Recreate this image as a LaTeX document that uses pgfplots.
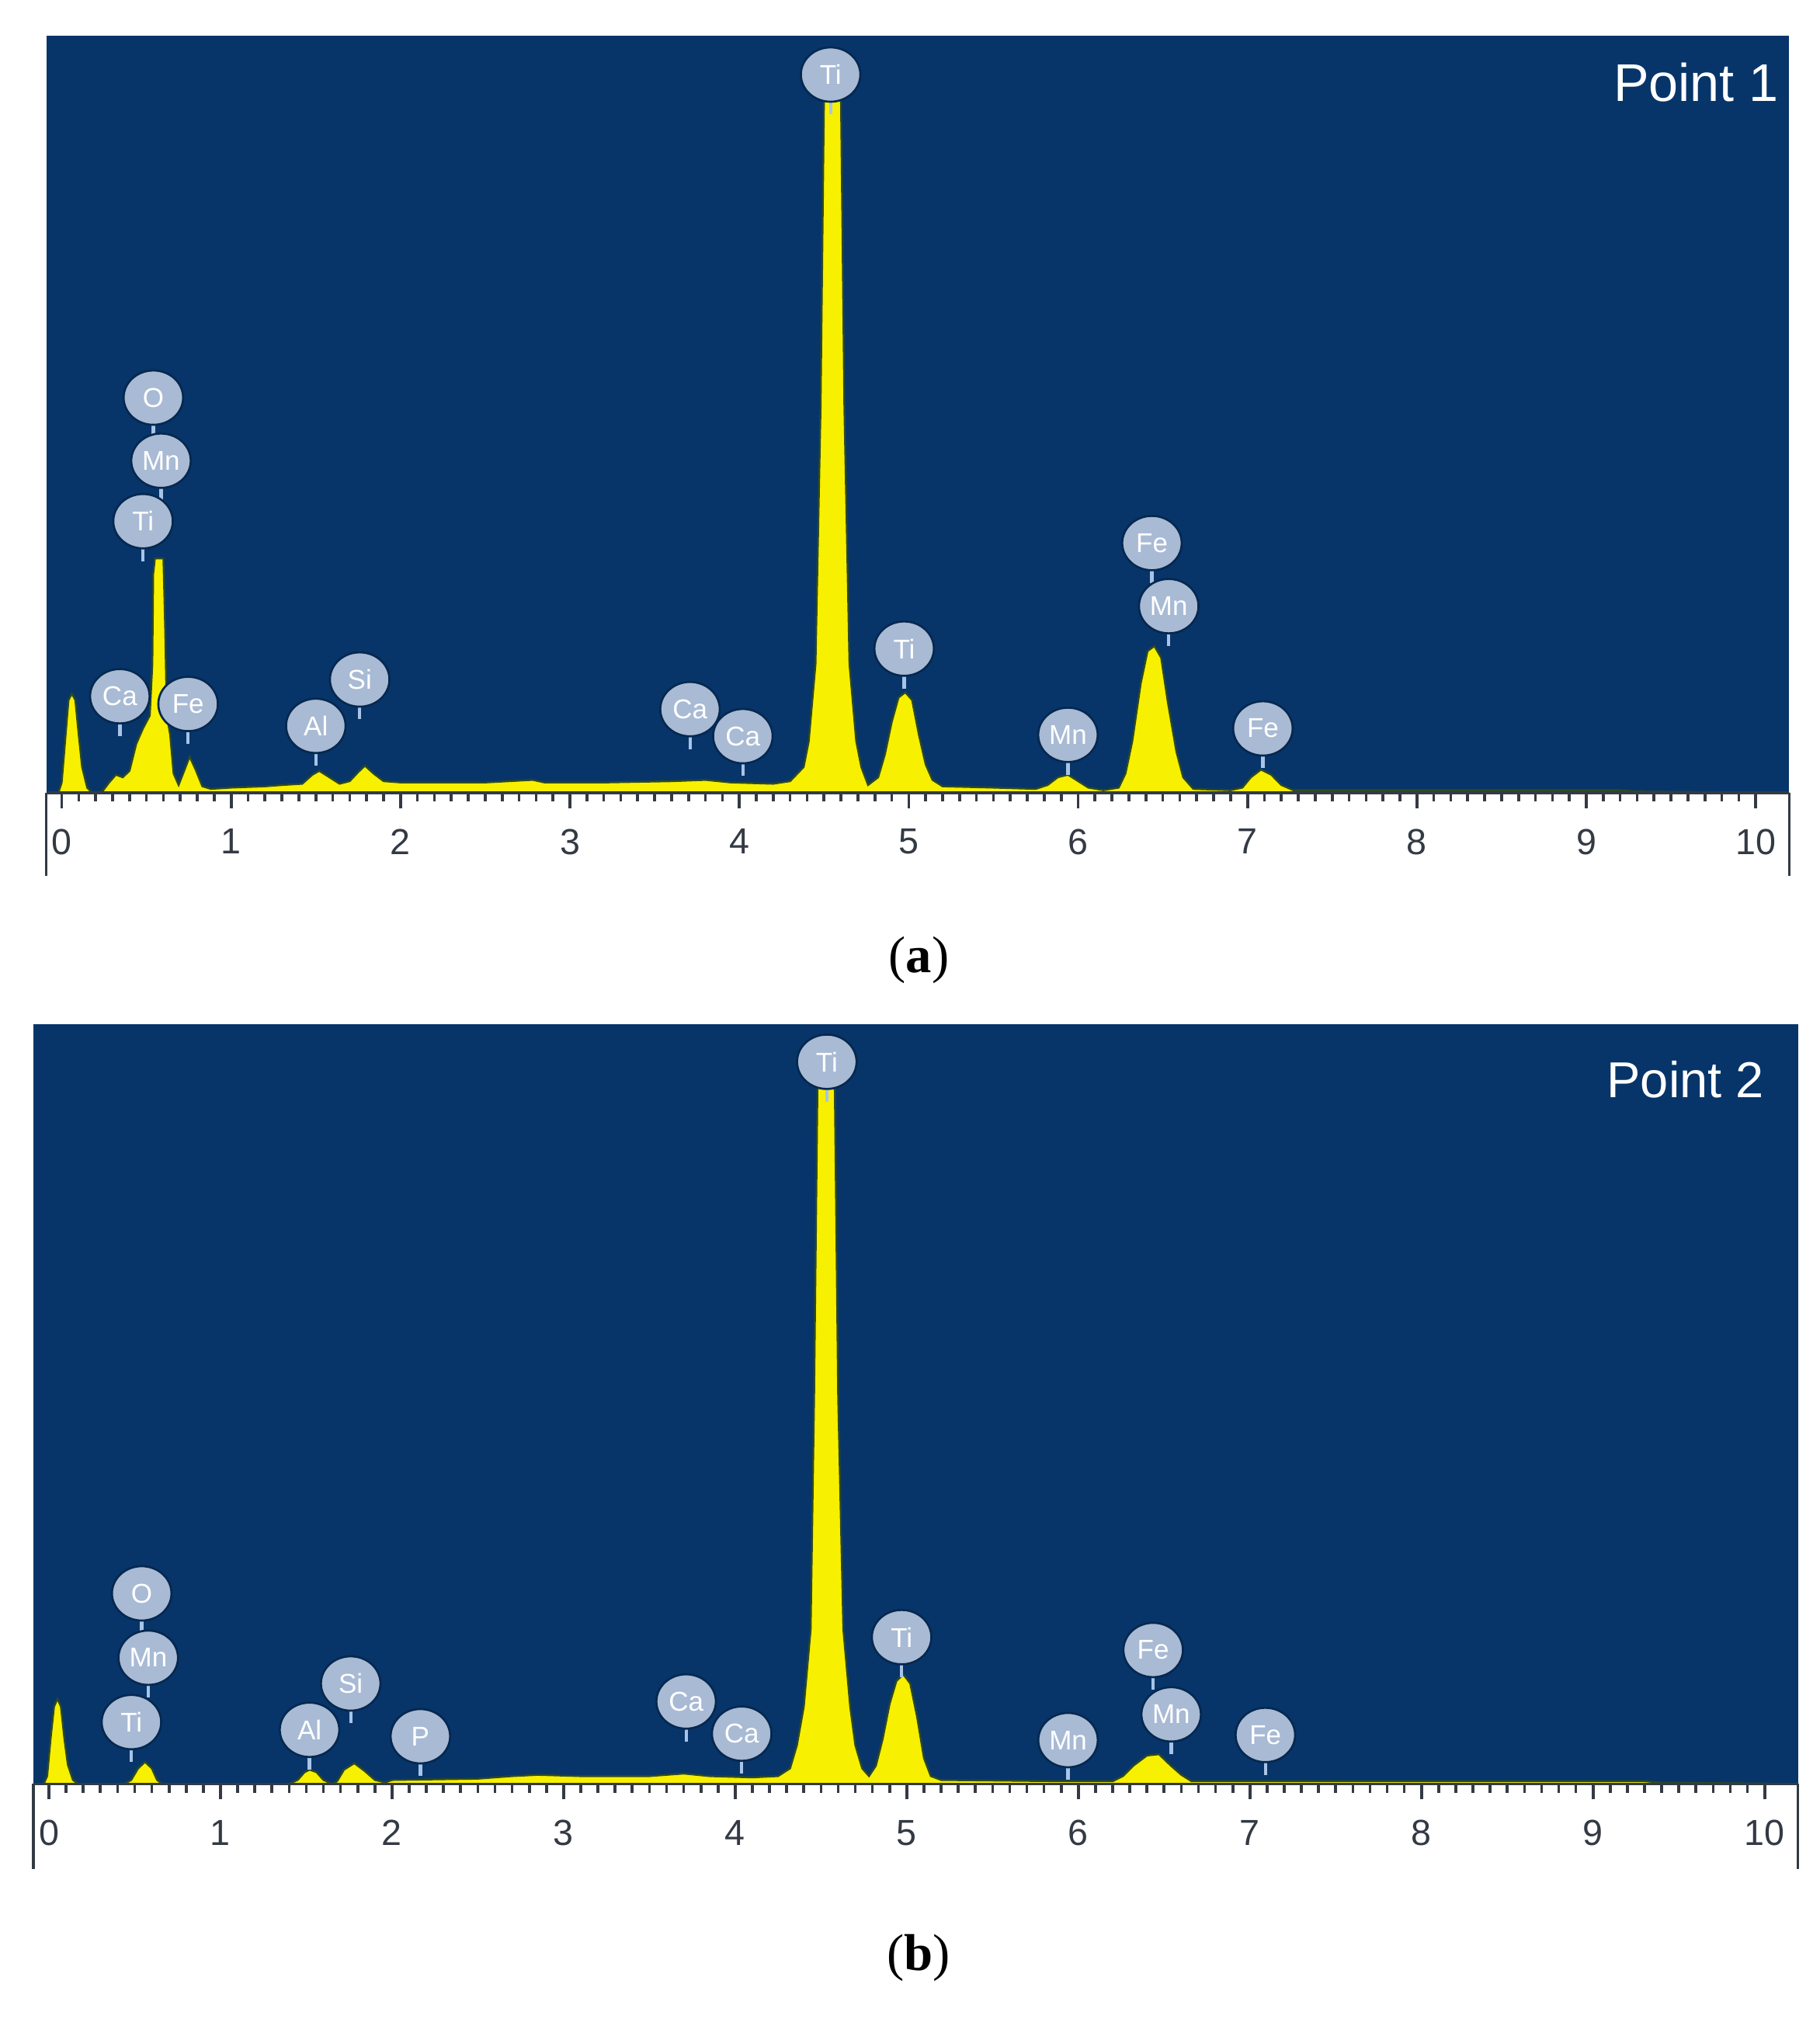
\documentclass[border=0pt]{standalone}
\usepackage{pgfplots}
\pgfplotsset{compat=1.18}
\usepackage{pgfplotstable}
\usepackage{fontspec}
\setmainfont{Liberation Sans}
\newfontfamily\capfont{Liberation Serif}
\usetikzlibrary{shapes.geometric}
\definecolor{bg}{HTML}{07356A}
\definecolor{pk}{HTML}{F7F000}
\definecolor{edge}{HTML}{2F4A20}
\definecolor{lab}{HTML}{A8BAD4}
\definecolor{halo}{HTML}{06284F}
\definecolor{stem}{HTML}{A8C4E6}
\definecolor{tk}{HTML}{333A44}

\pgfplotstableread{
x y t
0.541 307 O
0.586 258 Mn
0.480 211 Ti
0.343 75 Ca
0.746 69 Fe
1.500 52 Al
1.759 88 Si
3.709 65 Ca
4.021 44 Ca
4.539 558 Ti
4.973 112 Ti
5.940 45 Mn
6.436 194 Fe
6.535 145 Mn
7.091 50 Fe
}\labA
\pgfplotstableread{
x y t
0.541 148 O
0.579 98 Mn
0.481 48 Ti
1.519 42 Al
1.759 78 Si
2.165 37 P
3.714 64 Ca
4.038 39 Ca
4.534 561 Ti
4.970 114 Ti
5.940 34 Mn
6.436 104 Fe
6.541 54 Mn
7.090 38 Fe
}\labB

\pgfplotsset{
 eds/.style={
  scale only axis, clip=false,
  anchor=south west,
  axis background/.style={fill=bg},
  axis line style={draw=none},
  axis x line*=bottom,
  axis y line=none,
  ymin=0,
  xtick={0,1,...,10},
  minor x tick num=9,
  tick style={tk,line width=1.1pt},
  major tick length=6pt,
  minor tick length=3.4pt,
  tick align=outside,
  xticklabel style={font=\fontsize{14}{14}\selectfont,text=tk,yshift=-4.5pt},
  /pgf/number format/assume math mode=true,
 },
 spec/.style={fill=pk,draw=edge,line width=0.7pt},
 tags/.style={
  only marks, mark=none, forget plot,
  draw=stem, line width=1.3pt,
  point meta=explicit symbolic,
  nodes near coords,
  every node near coord/.style={
    anchor=center, ellipse, fill=lab, draw=halo, line width=0.8pt, inner sep=0pt,
    minimum width=23pt, minimum height=21pt,
    text=white, font=\fontsize{10.5}{10.5}\selectfont},
  error bars/.cd, y dir=minus, y fixed=31,
   error bar style={stem,line width=1.3pt}, error mark=none,
 },
}

\begin{document}
\begin{tikzpicture}
\path[use as bounding box] (0,0) rectangle (703.2pt,781.2pt);

\begin{axis}[eds, at={(17.90pt,474.9pt)}, width=673.4pt, height=292.4pt,
  xmin=-0.091, xmax=10.198, ymax=588]
\addplot[spec] coordinates {
(-0.02,0)(0,8)(0.02,40)(0.04,72)(0.06,77)(0.08,72)(0.10,45)(0.12,20)(0.15,4)(0.18,0)
(0.24,1)(0.28,8)(0.32,14)(0.36,12)(0.40,17)(0.44,38)(0.48,50)(0.52,60)(0.535,100)(0.54,170)
(0.55,182)(0.60,182)(0.61,130)(0.62,60)(0.64,45)(0.66,15)(0.69,6)(0.72,16)(0.755,28)(0.79,18)
(0.83,5)(0.88,3)(1.0,4)(1.2,5)(1.3,6)(1.42,7)(1.48,14)(1.52,17)(1.58,12)(1.64,7)(1.7,9)
(1.75,16)(1.79,21)(1.84,15)(1.9,9)(2.0,8)(2.5,8)(2.78,10)(2.85,8)(3.2,8)(3.6,9)(3.8,10)
(3.95,8)(4.2,7)(4.30,9)(4.38,20)(4.41,40)(4.45,100)(4.48,300)(4.50,540)(4.55,548)
(4.60,540)(4.62,300)(4.65,100)(4.69,40)(4.72,20)(4.76,6)(4.82,12)(4.86,30)(4.9,55)(4.94,74)
(4.98,78)(5.02,72)(5.06,45)(5.1,22)(5.14,10)(5.2,5)(5.5,4)(5.75,3)(5.82,6)(5.88,12)(5.94,14)
(6.0,9)(6.06,4)(6.15,2)(6.24,4)(6.28,15)(6.32,40)(6.37,85)(6.41,110)(6.45,114)(6.49,105)
(6.53,70)(6.58,32)(6.62,12)(6.68,3)(6.9,2)(6.97,4)(7.02,12)(7.08,18)(7.14,14)(7.2,6)(7.27,2)
(8,2)(9.2,2)(9.3,1)(10.198,0)
} \closedcycle;
\addplot[tags] table[x=x,y=y,meta=t] {\labA};
\draw[tk,line width=1pt] (rel axis cs:0,0) -- (rel axis cs:1,0);
\draw[tk,line width=1pt] (rel axis cs:0,0) -- ([yshift=-32pt]rel axis cs:0,0);
\draw[tk,line width=1pt] (rel axis cs:1,0) -- ([yshift=-32pt]rel axis cs:1,0);
\node[anchor=east,text=white,font=\fontsize{20.5}{20.5}\selectfont] at (axis cs:10.19,552) {Point 1};
\end{axis}

\begin{axis}[eds, at={(12.93pt,92.0pt)}, width=681.8pt, height=293.4pt,
  xmin=-0.09, xmax=10.195, ymax=590]
\addplot[spec] coordinates {
(-0.03,0)(-0.01,6)(0.01,35)(0.03,60)(0.05,66)(0.07,60)(0.09,35)(0.11,15)(0.14,3)(0.17,0)
(0.44,0)(0.48,3)(0.52,12)(0.56,17)(0.60,12)(0.63,3)(0.66,0)(1.40,0)(1.45,3)(1.49,9)(1.52,11)
(1.56,9)(1.60,3)(1.65,0)(1.68,2)(1.72,11)(1.78,16)(1.84,10)(1.90,3)(1.96,1)(2.0,3)(2.5,4)
(2.7,6)(2.85,7)(3.1,6)(3.5,6)(3.7,8)(3.85,6)(4.1,5)(4.25,6)(4.32,12)(4.36,30)(4.40,60)
(4.44,120)(4.46,300)(4.48,545)(4.53,550)(4.58,545)(4.60,300)(4.63,120)(4.67,60)(4.70,30)
(4.74,12)(4.78,6)(4.82,14)(4.86,35)(4.90,62)(4.94,80)(4.98,85)(5.02,78)(5.06,52)(5.10,20)
(5.14,6)(5.2,3)(5.9,2)(6.2,2)(6.26,6)(6.32,14)(6.40,22)(6.47,23)(6.54,14)(6.60,7)(6.66,2)
(8,2)(9.3,2)(9.4,1)(10.195,0)
} \closedcycle;
\addplot[tags] table[x=x,y=y,meta=t] {\labB};
\draw[tk,line width=1pt] (rel axis cs:0,0) -- (rel axis cs:1,0);
\draw[tk,line width=1pt] (rel axis cs:0,0) -- ([yshift=-33pt]rel axis cs:0,0);
\draw[tk,line width=1pt] (rel axis cs:1,0) -- ([yshift=-33pt]rel axis cs:1,0);
\node[anchor=east,text=white,font=\fontsize{19.5}{19.5}\selectfont] at (axis cs:10.05,547) {Point 2};
\end{axis}

\node[font=\capfont\fontsize{20}{20}\selectfont] at (355pt,410.3pt) {(\textbf{a})};
\node[font=\capfont\fontsize{20}{20}\selectfont] at (355pt,24.8pt) {(\textbf{b})};
\end{tikzpicture}
\end{document}
